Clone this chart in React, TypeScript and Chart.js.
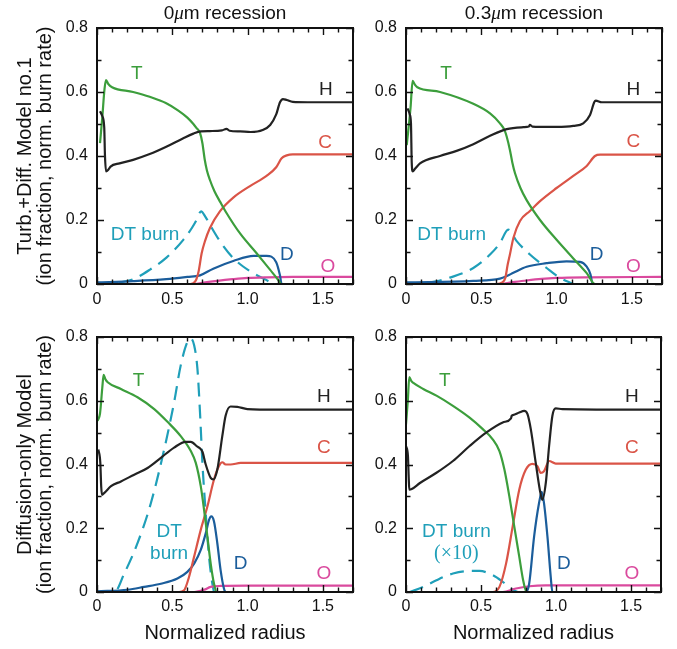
import React, { useEffect, useRef } from "react";
import { Chart, registerables } from "chart.js";

Chart.register(...registerables);

type Pt = [number, number];

// ---------- axes ----------
const X_TICKS = [0, 0.5, 1.0, 1.5];
const Y_TICKS = [0, 0.2, 0.4, 0.6, 0.8];
const X_RANGE: [number, number] = [0, 1.7];
const Y_RANGE: [number, number] = [0, 0.8];
const MINOR_STEP = 0.1;

const COLUMN_RECESSION = ["0", "0.3"];
const ROW_MODELS = [
  ["Turb.+Diff. Model no.1", "(ion fraction, norm. burn rate)"],
  ["Diffusion-only Model", "(ion fraction, norm. burn rate)"],
];
const X_TITLE = "Normalized radius";

// ---------- Panel 1 : 0 um, Turb.+Diff. ----------
const p1T: Pt[] = [[0.02,0.44],[0.035,0.52],[0.05,0.61],[0.06,0.637],[0.075,0.625],[0.1,0.615],[0.24,0.6],[0.35,0.585],[0.46,0.565],[0.54,0.542],[0.6,0.52],[0.64,0.5],[0.66,0.488],[0.684,0.472],[0.7,0.44],[0.715,0.39],[0.73,0.355],[0.75,0.325],[0.78,0.29],[0.82,0.255],[0.86,0.222],[0.95,0.158],[1.06,0.096],[1.15,0.044],[1.2,0.015],[1.225,0],[1.7,0]];
const p1H: Pt[] = [[0.02,0.54],[0.035,0.525],[0.048,0.49],[0.053,0.4],[0.06,0.352],[0.075,0.357],[0.09,0.367],[0.15,0.377],[0.24,0.388],[0.35,0.406],[0.46,0.429],[0.57,0.455],[0.64,0.47],[0.69,0.477],[0.75,0.478],[0.83,0.48],[0.86,0.485],[0.88,0.479],[0.95,0.477],[1.02,0.475],[1.1,0.481],[1.15,0.497],[1.19,0.53],[1.215,0.568],[1.235,0.578],[1.26,0.575],[1.3,0.569],[1.4,0.568],[1.7,0.568]];
const p1C: Pt[] = [[0,0],[0.62,0],[0.655,0.01],[0.675,0.04],[0.695,0.096],[0.717,0.134],[0.75,0.175],[0.816,0.227],[0.905,0.27],[1.016,0.306],[1.126,0.338],[1.19,0.365],[1.226,0.393],[1.26,0.402],[1.3,0.405],[1.7,0.405]];
const p1D: Pt[] = [[0,0.005],[0.24,0.009],[0.46,0.015],[0.6,0.022],[0.684,0.027],[0.772,0.048],[0.905,0.072],[1.04,0.088],[1.126,0.088],[1.19,0.068],[1.215,0.027],[1.226,0],[1.7,0]];
const p1O: Pt[] = [[0,0],[0.65,0],[0.7,0.004],[0.8,0.01],[0.9,0.015],[1.0,0.019],[1.126,0.021],[1.3,0.022],[1.7,0.022]];
const p1DT: Pt[] = [[0,0],[0.1,0.002],[0.15,0.005],[0.241,0.015],[0.352,0.045],[0.463,0.083],[0.573,0.138],[0.63,0.175],[0.661,0.2],[0.691,0.227],[0.72,0.21],[0.75,0.185],[0.816,0.134],[0.905,0.081],[1.016,0.04],[1.126,0.012],[1.17,0]];
const p1Labels: [string, number, number, string][] = [["T",0.264,0.658,"T"],["H",1.52,0.606,"H"],["C",1.514,0.44,"C"],["D",1.26,0.09,"D"],["O",1.534,0.054,"O"],["DT burn",0.319,0.153,"DT"]];

// ---------- Panel 2 : 0.3 um, Turb.+Diff. ----------
const p2T: Pt[] = [[0.005,0.434],[0.03,0.55],[0.044,0.635],[0.06,0.622],[0.075,0.615],[0.226,0.6],[0.447,0.563],[0.558,0.533],[0.624,0.502],[0.655,0.48],[0.669,0.46],[0.69,0.419],[0.706,0.38],[0.724,0.346],[0.76,0.3],[0.801,0.262],[0.89,0.2],[1.0,0.138],[1.111,0.08],[1.2,0.034],[1.255,0],[1.7,0]];
const p2H: Pt[] = [[0.01,0.549],[0.025,0.53],[0.033,0.502],[0.038,0.38],[0.045,0.352],[0.06,0.36],[0.093,0.377],[0.226,0.4],[0.336,0.416],[0.447,0.437],[0.558,0.463],[0.669,0.484],[0.779,0.49],[0.815,0.492],[0.823,0.497],[0.84,0.492],[0.89,0.491],[1.0,0.491],[1.111,0.494],[1.177,0.502],[1.222,0.528],[1.25,0.568],[1.26,0.573],[1.3,0.568],[1.7,0.568]];
const p2C: Pt[] = [[0,0],[0.6,0],[0.64,0.005],[0.66,0.02],[0.675,0.06],[0.69,0.092],[0.713,0.144],[0.757,0.197],[0.823,0.228],[0.89,0.259],[1.0,0.3],[1.111,0.338],[1.2,0.369],[1.255,0.4],[1.29,0.404],[1.7,0.404]];
const p2D: Pt[] = [[0,0.005],[0.447,0.01],[0.624,0.017],[0.67,0.025],[0.713,0.035],[0.801,0.054],[0.934,0.065],[1.066,0.071],[1.155,0.069],[1.2,0.054],[1.225,0.03],[1.24,0],[1.7,0]];
const p2O: Pt[] = [[0,0],[0.62,0],[0.7,0.005],[0.8,0.011],[0.9,0.016],[1.0,0.019],[1.2,0.021],[1.7,0.022]];
const p2DT: Pt[] = [[0,0],[0.115,0.002],[0.2,0.008],[0.292,0.02],[0.447,0.05],[0.558,0.092],[0.624,0.128],[0.679,0.17],[0.735,0.134],[0.823,0.092],[0.934,0.05],[1.02,0.02],[1.111,0]];
const p2Labels: [string, number, number, string][] = [["T",0.266,0.658,"T"],["H",1.51,0.606,"H"],["C",1.51,0.443,"C"],["D",1.266,0.09,"D"],["O",1.51,0.054,"O"],["DT burn",0.303,0.153,"DT"]];

// ---------- Panel 3 : 0 um, Diffusion-only ----------
const p3T: Pt[] = [[0.004,0.537],[0.02,0.56],[0.035,0.64],[0.044,0.681],[0.055,0.668],[0.071,0.658],[0.159,0.637],[0.269,0.611],[0.38,0.574],[0.468,0.534],[0.556,0.489],[0.623,0.442],[0.656,0.405],[0.689,0.332],[0.711,0.258],[0.733,0.174],[0.755,0.089],[0.777,0.026],[0.795,0],[1.7,0]];
const p3H: Pt[] = [[0.009,0.447],[0.022,0.405],[0.028,0.33],[0.033,0.305],[0.049,0.311],[0.093,0.332],[0.159,0.347],[0.247,0.368],[0.336,0.389],[0.424,0.421],[0.512,0.453],[0.589,0.471],[0.623,0.471],[0.667,0.456],[0.685,0.45],[0.7,0.44],[0.722,0.4],[0.755,0.358],[0.773,0.353],[0.799,0.384],[0.832,0.489],[0.854,0.553],[0.887,0.582],[0.932,0.581],[0.998,0.574],[1.196,0.572],[1.7,0.572]];
const p3C: Pt[] = [[0,0],[0.545,0],[0.578,0.005],[0.611,0.047],[0.645,0.111],[0.689,0.195],[0.733,0.268],[0.777,0.353],[0.81,0.395],[0.832,0.407],[0.854,0.4],[0.887,0.4],[0.954,0.405],[1.7,0.405]];
const p3D: Pt[] = [[0,0.002],[0.203,0.007],[0.313,0.016],[0.424,0.026],[0.534,0.042],[0.6,0.063],[0.645,0.089],[0.689,0.132],[0.722,0.184],[0.744,0.226],[0.759,0.237],[0.777,0.221],[0.799,0.153],[0.821,0.068],[0.843,0.011],[0.854,0],[1.7,0]];
const p3O: Pt[] = [[0,0],[0.645,0],[0.711,0.007],[0.755,0.016],[0.821,0.019],[1.0,0.02],[1.7,0.02]];
const p3DT: Pt[] = [[0,0],[0.115,0],[0.181,0.058],[0.269,0.153],[0.358,0.279],[0.446,0.447],[0.512,0.595],[0.556,0.711],[0.6,0.784],[0.623,0.795],[0.645,0.774],[0.667,0.7],[0.684,0.563],[0.7,0.405],[0.722,0.247],[0.744,0.111],[0.766,0.026],[0.777,0]];
const p3Labels: [string, number, number, string][] = [["T",0.276,0.663,"T"],["H",1.506,0.611,"H"],["C",1.506,0.453,"C"],["D",0.954,0.089,"D"],["O",1.506,0.058,"O"],["DT",0.479,0.189,"DT"],["burn",0.479,0.121,"DT"]];

// ---------- Panel 4 : 0.3 um, Diffusion-only ----------
const p4T: Pt[] = [[0,0.526],[0.012,0.6],[0.022,0.674],[0.035,0.662],[0.049,0.656],[0.115,0.637],[0.203,0.616],[0.313,0.584],[0.424,0.547],[0.512,0.511],[0.578,0.479],[0.623,0.442],[0.656,0.384],[0.689,0.3],[0.722,0.205],[0.755,0.111],[0.781,0.037],[0.804,0],[1.7,0]];
const p4H: Pt[] = [[0,0.458],[0.013,0.426],[0.018,0.36],[0.022,0.321],[0.038,0.323],[0.093,0.342],[0.203,0.374],[0.313,0.411],[0.424,0.458],[0.534,0.5],[0.645,0.532],[0.7,0.545],[0.705,0.553],[0.72,0.556],[0.755,0.563],[0.788,0.568],[0.81,0.558],[0.832,0.511],[0.865,0.405],[0.892,0.321],[0.909,0.289],[0.932,0.342],[0.954,0.458],[0.976,0.553],[0.998,0.576],[1.042,0.574],[1.7,0.572]];
const p4C: Pt[] = [[0,0],[0.578,0],[0.623,0.016],[0.667,0.089],[0.711,0.205],[0.755,0.321],[0.799,0.384],[0.843,0.402],[0.876,0.395],[0.898,0.374],[0.92,0.379],[0.954,0.411],[0.998,0.403],[1.7,0.403]];
const p4D: Pt[] = [[0,0],[0.799,0],[0.821,0.026],[0.854,0.174],[0.887,0.279],[0.905,0.314],[0.92,0.279],[0.943,0.174],[0.965,0.047],[0.976,0],[1.7,0]];
const p4O: Pt[] = [[0,0],[0.645,0],[0.733,0.011],[0.821,0.018],[0.932,0.021],[1.7,0.021]];
const p4DT: Pt[] = [[0.026,0],[0.115,0.016],[0.203,0.037],[0.313,0.058],[0.424,0.066],[0.49,0.066],[0.578,0.053],[0.645,0.032],[0.711,0.007],[0.744,0]];
const p4Labels: [string, number, number, string][] = [["T",0.258,0.663,"T"],["H",1.506,0.611,"H"],["C",1.506,0.453,"C"],["D",1.053,0.089,"D"],["O",1.506,0.058,"O"],["DT burn",0.336,0.189,"DT"],["(\u00d710)",0.336,0.119,"DTs"]];

// ---------- styles ----------
const FONT = "'Liberation Sans', Arial, Helvetica, sans-serif";
const SERIF = "'Liberation Serif', 'DejaVu Serif', serif";
const COLORS: Record<string, string> = {
  H: "#222222",
  T: "#3c9e3c",
  C: "#da5447",
  D: "#1b5d9b",
  O: "#da4a9e",
  DT: "#1f9fb9",
  DTs: "#1f9fb9",
};
const SERIES_ORDER = ["H", "T", "C", "D", "O", "DT"];

type PanelCfg = {
  series: Record<string, Pt[]>;
  labels: [string, number, number, string][];
  box: { left: number; top: number; w: number; h: number };
  area: { l: number; t: number; r: number; b: number };
  yTitle: string[] | null;
  xTitle: boolean;
  xPad: number;
};

const PANELS: PanelCfg[] = [
  { series: { T: p1T, H: p1H, C: p1C, D: p1D, O: p1O, DT: p1DT }, labels: p1Labels,
    box: { left: 0, top: 0, w: 365, h: 320 }, area: { l: 97, t: 28, r: 353, b: 284 },
    yTitle: ROW_MODELS[0], xTitle: false, xPad: 8 },
  { series: { T: p2T, H: p2H, C: p2C, D: p2D, O: p2O, DT: p2DT }, labels: p2Labels,
    box: { left: 365, top: 0, w: 312, h: 320 }, area: { l: 406, t: 28, r: 662, b: 284 },
    yTitle: null, xTitle: false, xPad: 8 },
  { series: { T: p3T, H: p3H, C: p3C, D: p3D, O: p3O, DT: p3DT }, labels: p3Labels,
    box: { left: 0, top: 320, w: 365, h: 329 }, area: { l: 97, t: 337, r: 353, b: 592 },
    yTitle: ROW_MODELS[1], xTitle: true, xPad: 7 },
  { series: { T: p4T, H: p4H, C: p4C, D: p4D, O: p4O, DT: p4DT }, labels: p4Labels,
    box: { left: 365, top: 320, w: 312, h: 329 }, area: { l: 406, t: 337, r: 661, b: 592 },
    yTitle: null, xTitle: true, xPad: 7 },
];

const tickFmt = (v: number) => (Math.abs(v) < 1e-9 ? "0" : Number(v).toFixed(1));

const frameTicksPlugin = {
  id: "frameTicks",
  afterDatasetsDraw(chart: any) {
    const { ctx, chartArea: a, scales } = chart;
    const x = scales.x, y = scales.y;
    ctx.save();
    ctx.strokeStyle = "#111";
    ctx.lineWidth = 1.4;
    ctx.beginPath();
    const nx = Math.round((X_RANGE[1] - X_RANGE[0]) / MINOR_STEP);
    for (let i = 0; i <= nx; i++) {
      const v = X_RANGE[0] + i * MINOR_STEP;
      const major = X_TICKS.some((t) => Math.abs(t - v) < 1e-6);
      const len = major ? 7 : 4.5;
      const px = Math.round(x.getPixelForValue(v)) + 0.5;
      ctx.moveTo(px, a.bottom); ctx.lineTo(px, a.bottom - len);
      ctx.moveTo(px, a.top); ctx.lineTo(px, a.top + len);
    }
    const ny = Math.round((Y_RANGE[1] - Y_RANGE[0]) / MINOR_STEP);
    for (let i = 0; i <= ny; i++) {
      const v = Y_RANGE[0] + i * MINOR_STEP;
      const major = Y_TICKS.some((t) => Math.abs(t - v) < 1e-6);
      const len = major ? 7 : 4.5;
      const py = Math.round(y.getPixelForValue(v)) + 0.5;
      ctx.moveTo(a.left, py); ctx.lineTo(a.left + len, py);
      ctx.moveTo(a.right, py); ctx.lineTo(a.right - len, py);
    }
    ctx.stroke();
    ctx.lineWidth = 2;
    ctx.strokeRect(a.left, a.top, a.right - a.left, a.bottom - a.top);
    ctx.restore();
  },
};

const seriesLabelsPlugin = {
  id: "seriesLabels",
  afterDatasetsDraw(chart: any, _args: any, opts: any) {
    const { ctx, scales } = chart;
    const items: [string, number, number, string][] = opts.items || [];
    ctx.save();
    ctx.textAlign = "center";
    ctx.textBaseline = "middle";
    for (const [text, vx, vy, key] of items) {
      ctx.fillStyle = COLORS[key];
      ctx.font = key === "DTs" ? `20px ${SERIF}` : `19px ${FONT}`;
      ctx.fillText(text, scales.x.getPixelForValue(vx), scales.y.getPixelForValue(vy));
    }
    ctx.restore();
  },
};

function Panel({ cfg }: { cfg: PanelCfg }) {
  const ref = useRef<HTMLCanvasElement>(null);
  useEffect(() => {
    const { box, area } = cfg;
    const yWidth = area.l - box.left;
    const xHeight = box.top + box.h - area.b;
    const datasets = SERIES_ORDER.map((key) => ({
      label: key,
      data: cfg.series[key].map(([x, y]) => ({ x, y })),
      borderColor: COLORS[key],
      backgroundColor: COLORS[key],
      borderWidth: 2.2,
      borderDash: key === "DT" ? [14, 8] : [],
      pointRadius: 0,
      fill: false,
      cubicInterpolationMode: "monotone" as const,
    }));
    const chart = new Chart(ref.current!, {
      type: "line",
      data: { datasets },
      options: {
        animation: false,
        responsive: false,
        events: [],
        layout: {
          padding: { left: 0, top: area.t - box.top, right: box.left + box.w - area.r, bottom: 0 },
        },
        plugins: {
          legend: { display: false },
          tooltip: { enabled: false },
          seriesLabels: { items: cfg.labels },
        } as any,
        scales: {
          x: {
            type: "linear",
            min: X_RANGE[0],
            max: X_RANGE[1],
            grid: { display: false, drawTicks: false },
            border: { display: false },
            afterBuildTicks: (s: any) => { s.ticks = X_TICKS.map((v) => ({ value: v })); },
            afterFit: (s: any) => { s.height = xHeight; },
            ticks: {
              padding: cfg.xPad,
              maxRotation: 0,
              autoSkip: false,
              color: "#111",
              font: { family: FONT, size: 16, lineHeight: 1 },
              callback: (v: any) => tickFmt(Number(v)),
            },
            title: {
              display: cfg.xTitle,
              text: X_TITLE,
              color: "#111",
              font: { family: FONT, size: 20, lineHeight: 1 },
              padding: { top: 0, bottom: 6 },
            },
          },
          y: {
            type: "linear",
            min: Y_RANGE[0],
            max: Y_RANGE[1],
            grid: { display: false, drawTicks: false },
            border: { display: false },
            afterBuildTicks: (s: any) => { s.ticks = Y_TICKS.map((v) => ({ value: v })); },
            afterFit: (s: any) => { s.width = yWidth; },
            ticks: {
              padding: 9,
              autoSkip: false,
              color: "#111",
              font: { family: FONT, size: 16, lineHeight: 1 },
              callback: (v: any) => tickFmt(Number(v)),
            },
            title: {
              display: !!cfg.yTitle,
              text: cfg.yTitle || "",
              color: "#111",
              font: { family: FONT, size: 20, lineHeight: 1 },
              padding: { top: 15, bottom: 0 },
            },
          },
        },
      },
      plugins: [frameTicksPlugin, seriesLabelsPlugin],
    });
    return () => chart.destroy();
  }, [cfg]);
  return (
    <div style={{ position: "absolute", left: cfg.box.left, top: cfg.box.top, width: cfg.box.w, height: cfg.box.h }}>
      <canvas ref={ref} width={cfg.box.w} height={cfg.box.h} style={{ display: "block", width: cfg.box.w, height: cfg.box.h }} />
    </div>
  );
}

export default function App() {
  const titleCentres = [
    { l: PANELS[0].area.l, w: PANELS[0].area.r - PANELS[0].area.l },
    { l: PANELS[1].area.l, w: PANELS[1].area.r - PANELS[1].area.l },
  ];
  return (
    <div style={{ position: "absolute", left: 0, top: 0, width: 677, height: 649, background: "#fff", fontFamily: FONT, color: "#111", overflow: "hidden" }}>
      {PANELS.map((p, i) => (
        <Panel key={i} cfg={p} />
      ))}
      {COLUMN_RECESSION.map((r, i) => (
        <div key={r} style={{ position: "absolute", left: titleCentres[i].l, top: 3, width: titleCentres[i].w, textAlign: "center", fontSize: 19, lineHeight: "19px", whiteSpace: "nowrap" }}>
          {r}
          <i style={{ fontFamily: SERIF }}>{"\u03bc"}</i>m recession
        </div>
      ))}
    </div>
  );
}
